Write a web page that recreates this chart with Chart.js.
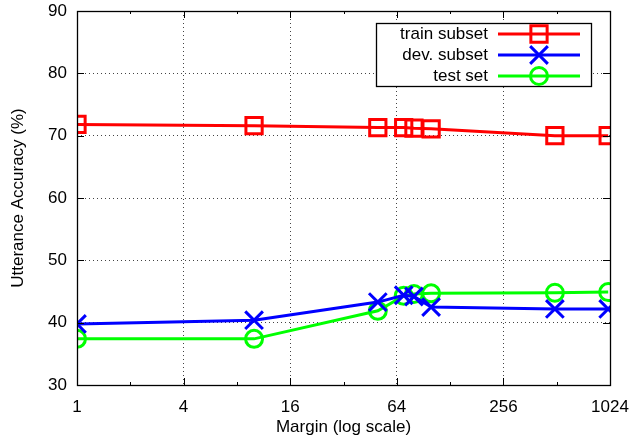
<!DOCTYPE html>
<html lang="en">
<head>
  <meta charset="UTF-8" />
  <title>Utterance Accuracy vs Margin</title>
  <script src="https://cdn.jsdelivr.net/npm/chart.js@4.4.1/dist/chart.umd.min.js"></script>
  <style>
    body { margin: 0; background: #fff; }
  </style>
</head>
<body>
<div style="width: 632px; height: 443px">
  <canvas id="accChart" width="632" height="443"></canvas>
</div>
<script>
    const margins = [1, 10, 50, 70, 80, 100, 500, 1000];
    const trainAcc = [71.8, 71.6, 71.3, 71.3, 71.2, 71.1, 70.0, 70.0];
    const devAcc = [39.8, 40.4, 43.3, 44.4, 44.2, 42.5, 42.2, 42.2];
    const testAcc = [37.4, 37.4, 41.9, 44.3, 44.6, 44.7, 44.8, 44.9];

    const xTicks = [1, 4, 16, 64, 256, 1024];
    const xMinorTicks = [2, 8, 32, 128, 512];
    const yTicks = [30, 40, 50, 60, 70, 80, 90];
    const seriesNames = ["train subset", "dev. subset", "test set"];

    const FONT = "'Liberation Sans', Arial, sans-serif";
    const FONT_SIZE = 17;

    function toPoints(values) {
      return margins.map((m, i) => ({ x: m, y: values[i] }));
    }

    // gnuplot style frame with inward ticks + boxed legend
    const framePlugin = {
      id: "frame",
      afterDatasetsDraw(chart) {
        const { ctx, chartArea: a, scales } = chart;
        ctx.save();
        ctx.strokeStyle = "#000";
        ctx.lineWidth = 1;
        ctx.setLineDash([]);
        ctx.beginPath();
        xTicks.forEach((v) => {
          const px = Math.round(scales.x.getPixelForValue(v)) + 0.5;
          ctx.moveTo(px, a.bottom); ctx.lineTo(px, a.bottom - 7);
          ctx.moveTo(px, a.top); ctx.lineTo(px, a.top + 7);
        });
        xMinorTicks.forEach((v) => {
          const px = Math.round(scales.x.getPixelForValue(v)) + 0.5;
          ctx.moveTo(px, a.bottom); ctx.lineTo(px, a.bottom - 3);
          ctx.moveTo(px, a.top); ctx.lineTo(px, a.top + 3);
        });
        yTicks.forEach((v) => {
          const py = Math.round(scales.y.getPixelForValue(v)) + 0.5;
          ctx.moveTo(a.left, py); ctx.lineTo(a.left + 7, py);
          ctx.moveTo(a.right, py); ctx.lineTo(a.right - 7, py);
        });
        ctx.stroke();
        ctx.lineWidth = 1.3;
        ctx.strokeRect(Math.round(a.left) + 0.5, Math.round(a.top) + 0.5,
          Math.round(a.right - a.left), Math.round(a.bottom - a.top));

        // legend
        const box = { x: 376, y: 23, w: 215, h: 63 };
        ctx.fillStyle = "#fff";
        ctx.fillRect(box.x, box.y, box.w, box.h);
        ctx.lineWidth = 1.3;
        ctx.strokeRect(box.x + 0.5, box.y + 0.5, box.w, box.h);
        ctx.font = FONT_SIZE + "px " + FONT;
        ctx.textAlign = "right";
        ctx.textBaseline = "middle";
        chart.data.datasets.forEach((ds, i) => {
          const y = 34 + i * 21;
          ctx.fillStyle = "#000";
          ctx.fillText(ds.label, 488, y);
          ctx.strokeStyle = ds.borderColor;
          ctx.lineWidth = 3;
          ctx.beginPath();
          ctx.moveTo(498, y); ctx.lineTo(580, y);
          ctx.stroke();
          ctx.fillStyle = "rgba(0,0,0,0)";
          Chart.helpers.drawPoint(ctx, {
            pointStyle: ds.pointStyle,
            radius: ds.pointRadius,
            borderWidth: 3,
            rotation: 0,
          }, 539, y);
        });
        ctx.restore();
      },
    };

    const baseSet = {
      borderWidth: 3,
      pointBorderWidth: 3,
      pointBackgroundColor: "rgba(0,0,0,0)",
      fill: false,
      tension: 0,
    };

    const config = {
      type: "line",
      data: {
        datasets: [
          Object.assign({}, baseSet, {
            label: seriesNames[0],
            data: toPoints(trainAcc),
            borderColor: "#ff0000",
            pointBorderColor: "#ff0000",
            pointStyle: "rect",
            pointRadius: 11.5,
          }),
          Object.assign({}, baseSet, {
            label: seriesNames[1],
            data: toPoints(devAcc),
            borderColor: "#0000ff",
            pointBorderColor: "#0000ff",
            pointStyle: "crossRot",
            pointRadius: 12.5,
          }),
          Object.assign({}, baseSet, {
            label: seriesNames[2],
            data: toPoints(testAcc),
            borderColor: "#00ff00",
            pointBorderColor: "#00ff00",
            pointStyle: "circle",
            pointRadius: 8.5,
          }),
        ],
      },
      options: {
        responsive: false,
        animation: false,
        layout: { autoPadding: false, padding: { top: 11, right: 22, left: 0, bottom: 0 } },
        plugins: {
          legend: { display: false },
          tooltip: { enabled: false },
        },
        scales: {
          x: {
            type: "logarithmic",
            min: 1,
            max: 1024,
            afterBuildTicks: (s) => { s.ticks = xTicks.map((v) => ({ value: v })); },
            afterFit: (s) => {
              s.height = 443 - 385;
              s.paddingLeft = 0;
              s.paddingRight = 0;
            },
            ticks: {
              callback: (v) => String(v),
              autoSkip: false,
              maxRotation: 0,
              color: "#000",
              padding: 12,
              font: { family: FONT, size: FONT_SIZE },
            },
            grid: { color: "#444", drawTicks: false, lineWidth: 1 },
            border: { display: false, dash: [1, 3] },
            title: {
              display: true,
              text: "Margin (log scale)",
              color: "#000",
              padding: { top: 2, bottom: 5 },
              font: { family: FONT, size: FONT_SIZE },
            },
          },
          y: {
            min: 30,
            max: 90,
            afterBuildTicks: (s) => { s.ticks = yTicks.map((v) => ({ value: v })); },
            afterFit: (s) => {
              s.width = 77;
              s.paddingTop = 0;
              s.paddingBottom = 0;
            },
            ticks: {
              color: "#000",
              padding: 10,
              font: { family: FONT, size: FONT_SIZE },
            },
            grid: { color: "#444", drawTicks: false, lineWidth: 1 },
            border: { display: false, dash: [1, 3] },
            title: {
              display: true,
              text: "Utterance Accuracy (%)",
              color: "#000",
              padding: { top: 8, bottom: 0 },
              font: { family: FONT, size: FONT_SIZE },
            },
          },
        },
      },
      plugins: [framePlugin],
    };

    new Chart(document.getElementById("accChart"), config);
</script>
</body>
</html>
